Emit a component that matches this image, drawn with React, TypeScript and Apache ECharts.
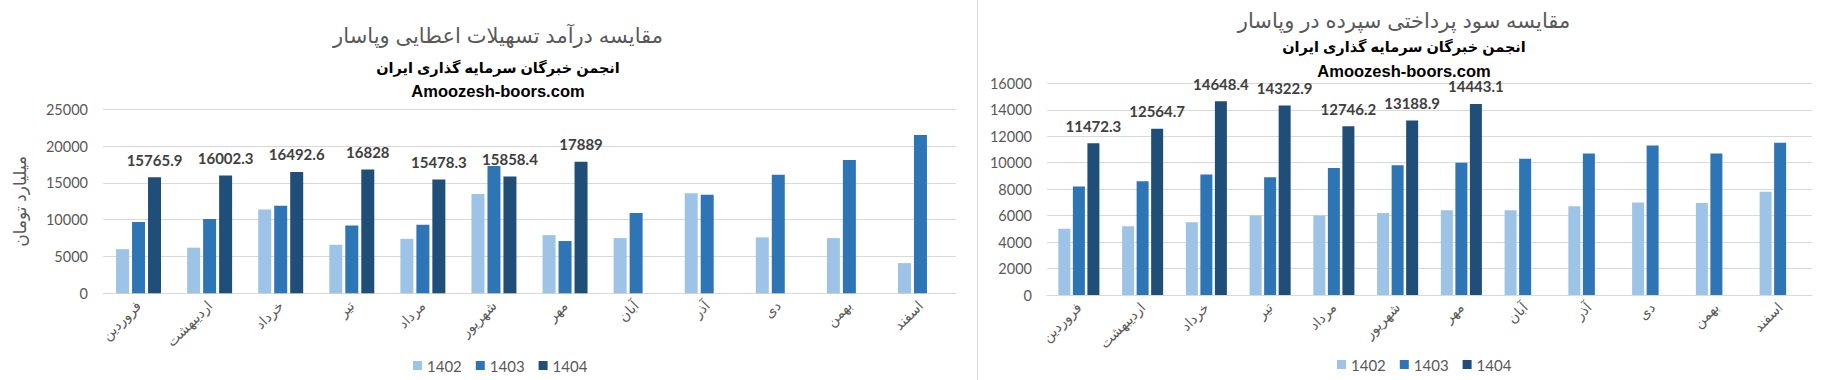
import React, { useEffect, useRef } from "react";
import * as echarts from "echarts";

const months = ["فروردین", "اردیبهشت", "خرداد", "تیر", "مرداد", "شهریور", "مهر", "آبان", "آذر", "دی", "بهمن", "اسفند"];
const years = ["1402", "1403", "1404"];

const incomeTitle = "مقایسه درآمد تسهیلات اعطایی وپاسار";
const depositTitle = "مقایسه سود پرداختی سپرده در وپاسار";
const subTitle = "انجمن خبرگان سرمایه گذاری ایران";
const siteText = "Amoozesh-boors.com";
const incomeUnit = "میلیارد تومان";

const income1402 = [6000, 6200, 11400, 6600, 7400, 13500, 7900, 7500, 13600, 7600, 7500, 4100];
const income1403 = [9700, 10100, 11900, 9200, 9300, 17300, 7100, 10900, 13400, 16100, 18100, 21500];
const income1404 = [15765.9, 16002.3, 16492.6, 16828, 15478.3, 15858.4, 17889, null, null, null, null, null];

const deposit1402 = [5000, 5200, 5500, 6000, 6000, 6200, 6400, 6400, 6700, 7000, 6950, 7800];
const deposit1403 = [8200, 8600, 9100, 8900, 9600, 9800, 10000, 10300, 10700, 11300, 10700, 11500];
const deposit1404 = [11472.3, 12564.7, 14648.4, 14322.9, 12746.2, 13188.9, 14443.1, null, null, null, null, null];

const colors = ["#9dc3e6", "#2e75b6", "#1f4e79"];
const FONT = "Lato, 'DejaVu Sans', sans-serif";
const AR_FONT = "Arial, 'DejaVu Sans', sans-serif";

export default function App() {
  const ref = useRef<HTMLDivElement>(null);
  useEffect(() => {
    if (!ref.current) return;
    const chart = echarts.init(ref.current, null, { renderer: "svg" });

    const xAxisBase = (gridIndex: number) => ({
      type: "category",
      gridIndex,
      data: months,
      axisTick: { show: false },
      axisLine: { lineStyle: { color: "#d9d9d9" } },
      axisLabel: { rotate: 45, color: "#595959", fontSize: 14, fontFamily: AR_FONT, margin: 10, interval: 0 },
    });
    const yAxisBase = (gridIndex: number, max: number, interval: number) => ({
      type: "value",
      gridIndex,
      min: 0,
      max,
      interval,
      axisLine: { show: false },
      axisTick: { show: false },
      splitLine: { lineStyle: { color: "#d9d9d9" } },
      axisLabel: {
        color: "#595959",
        fontSize: 14.5,
        fontFamily: FONT,
        margin: 15,
        formatter: (v: number) => String(v),
      },
    });

    const valueLabel = {
      show: true,
      position: "top",
      distance: 10,
      color: "#404040",
      fontWeight: "bold",
      fontSize: 15,
      fontFamily: FONT,
    };

    const mkSeries = (idx: number, data: (number | null)[][], barWidth: number, barGap: string) =>
      data.map((d, i) => ({
        name: years[i],
        type: "bar",
        xAxisIndex: idx,
        yAxisIndex: idx,
        data: d,
        barWidth,
        barGap,
        itemStyle: { color: colors[i] },
        label: i === 2 ? valueLabel : { show: false },
      }));

    const texts = (cx: number, yT: number, yS: number, yU: number, title: string) => [
      {
        type: "text",
        x: cx,
        y: yT,
        style: { text: title, fill: "#595959", font: `21px ${AR_FONT}`, textAlign: "center", textVerticalAlign: "middle" },
      },
      {
        type: "text",
        x: cx,
        y: yS,
        style: { text: subTitle, fill: "#000", font: `bold 14.5px ${AR_FONT}`, textAlign: "center", textVerticalAlign: "middle" },
      },
      {
        type: "text",
        x: cx,
        y: yU,
        style: { text: siteText, fill: "#000", font: `bold 16.5px Arial, 'Liberation Sans', sans-serif`, textAlign: "center", textVerticalAlign: "middle" },
      },
    ];

    const legendBase = {
      icon: "rect",
      itemWidth: 9,
      itemHeight: 9,
      itemGap: 14,
      data: years,
      textStyle: { color: "#595959", fontSize: 15, fontFamily: FONT },
    };

    chart.setOption({
      animation: false,
      grid: [
        { left: 103, top: 109.3, width: 853, height: 184 },
        { left: 1047, top: 83.3, width: 765, height: 211.7 },
      ],
      xAxis: [xAxisBase(0), xAxisBase(1)],
      yAxis: [
        {
          ...yAxisBase(0, 25000, 5000),
          name: incomeUnit,
          nameLocation: "middle",
          nameRotate: 90,
          nameGap: 74,
          nameTextStyle: { color: "#595959", fontSize: 17, fontFamily: AR_FONT },
        },
        yAxisBase(1, 16000, 2000),
      ],
      legend: [
        { ...legendBase, left: 408, top: 353 },
        { ...legendBase, left: 1332, top: 352 },
      ],
      series: [
        ...mkSeries(0, [income1402, income1403, income1404], 13, "23%"),
        ...mkSeries(1, [deposit1402, deposit1403, deposit1404], 12, "21%"),
      ],
      graphic: [
        { type: "line", shape: { x1: 977.5, y1: 0, x2: 977.5, y2: 380 }, style: { stroke: "#d9d9d9", lineWidth: 1 } },
        ...texts(498, 35, 68, 91, incomeTitle),
        ...texts(1404, 20, 47, 71, depositTitle),
      ],
    });

    return () => chart.dispose();
  }, []);

  return (
    <div
      ref={ref}
      style={{ position: "fixed", left: 0, top: 0, width: 1821, height: 380, background: "#fff" }}
    />
  );
}
